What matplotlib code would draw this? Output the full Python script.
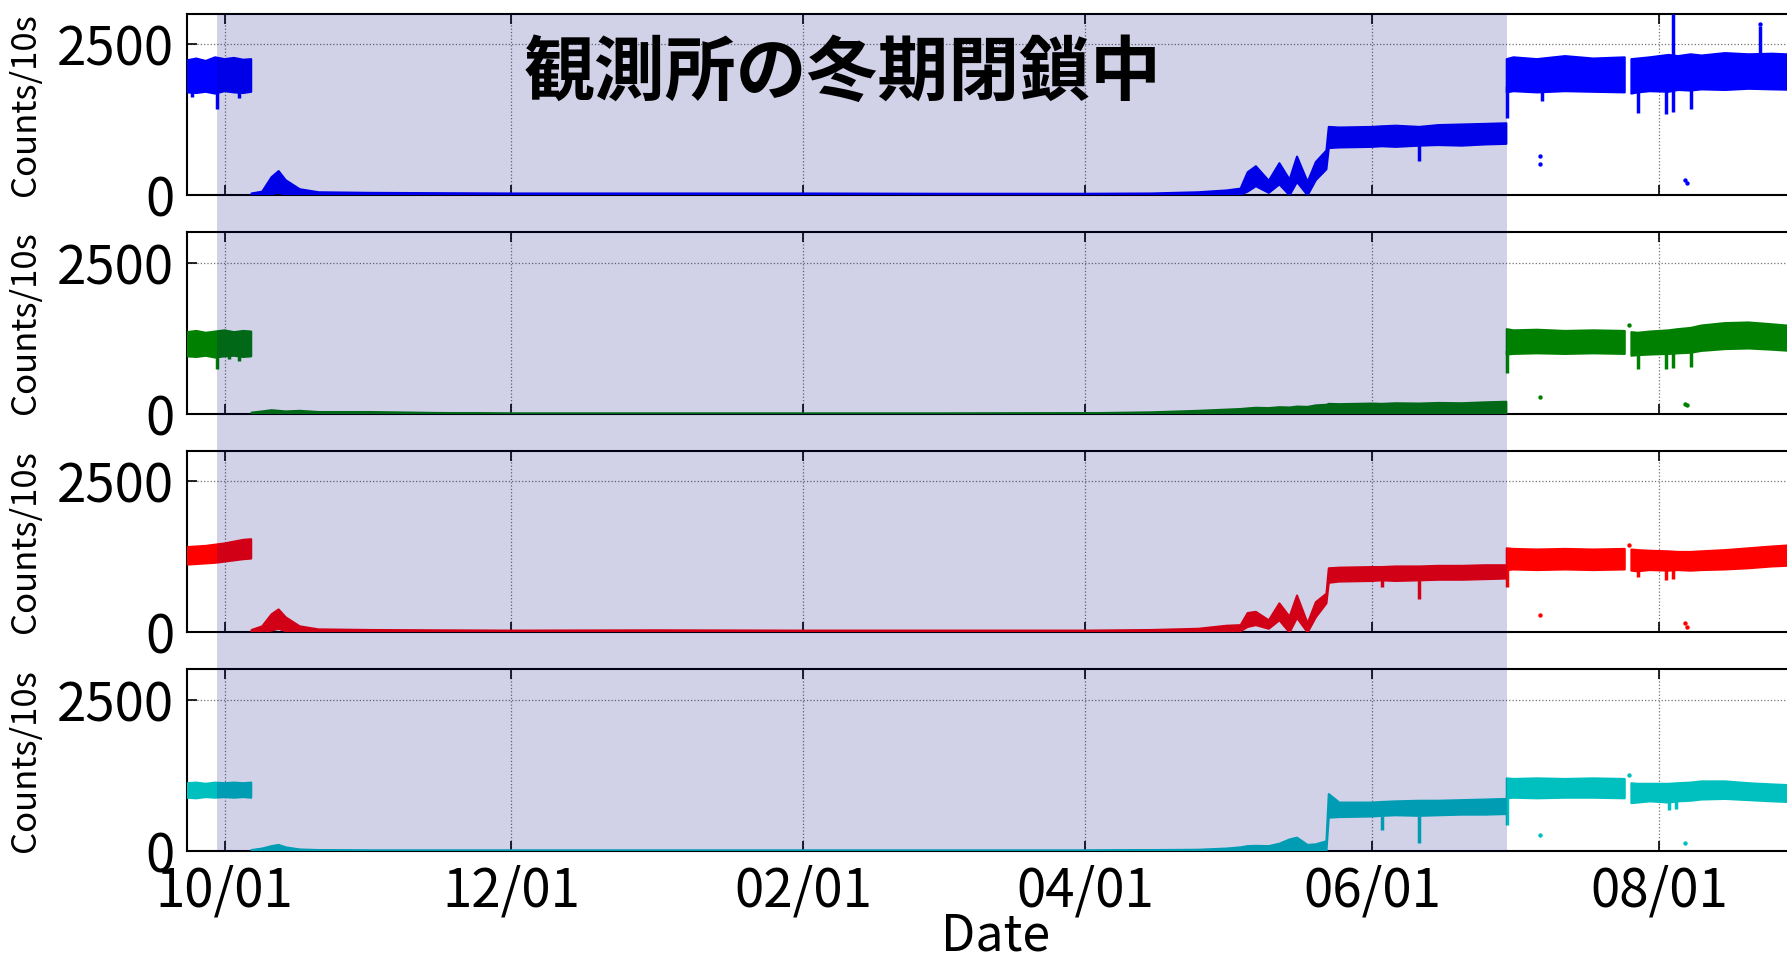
import matplotlib
matplotlib.use("Agg")
import matplotlib.pyplot as plt
import matplotlib.dates as mdates
import matplotlib.transforms as mtransforms
from matplotlib.patches import Rectangle
import numpy as np
import pandas as pd

plt.rcParams["font.family"] = ["Noto Sans CJK JP", "DejaVu Sans"]

# common time grid (band envelopes are sampled on it); NaN rows mark data breaks
dates = [
    "2015-09-23", "2015-09-25", "2015-09-27", "2015-09-29", "2015-10-01",
    "2015-10-03", "2015-10-05", "2015-10-06 16:00", "2015-10-06 17:00", "2015-10-06 18:00",
    "2015-10-09", "2015-10-11", "2015-10-12 12:00", "2015-10-14", "2015-10-17",
    "2015-10-21", "2015-11-01", "2015-11-15", "2015-12-01", "2016-01-01",
    "2016-02-01", "2016-03-01", "2016-04-01", "2016-04-15", "2016-04-25",
    "2016-05-01", "2016-05-04", "2016-05-05 12:00", "2016-05-07 06:00", "2016-05-10",
    "2016-05-12 06:00", "2016-05-14 10:00", "2016-05-16", "2016-05-18 06:00", "2016-05-20",
    "2016-05-22 06:00", "2016-05-22 18:00", "2016-05-25", "2016-06-01", "2016-06-03",
    "2016-06-06", "2016-06-11", "2016-06-15", "2016-06-20", "2016-06-25",
    "2016-06-29 12:00", "2016-06-29 13:00", "2016-06-29 14:00", "2016-07-01", "2016-07-06",
    "2016-07-12", "2016-07-18", "2016-07-24 16:00", "2016-07-25", "2016-07-26 02:00",
    "2016-07-27 10:00", "2016-07-30", "2016-08-03", "2016-08-05", "2016-08-07 16:00",
    "2016-08-10", "2016-08-15", "2016-08-20", "2016-08-25", "2016-08-31",
]
nan = np.nan

ch1_lo = [1700, 1690, 1710, 1680, 1720, 1700, 1690, 1710, nan, 0,
          0, 20, 40, 10, 0, 0, 0, 0, 0, 0,
          0, 0, 0, 0, 0, 0, 10, 60, 150, 40,
          180, 0, 220, 0, 250, 430, 780, 790, 800, 810,
          800, 820, 830, 820, 840, 850, nan, 1700, 1720, 1700,
          1720, 1710, 1700, nan, 1680, 1700, 1720, 1710, 1740, 1730,
          1750, 1740, 1760, 1750, 1740]
ch1_hi = [2230, 2260, 2220, 2280, 2250, 2270, 2240, 2250, nan, 30,
          60, 300, 400, 250, 100, 50, 40, 35, 30, 30,
          30, 25, 25, 30, 50, 80, 110, 380, 480, 240,
          530, 260, 640, 220, 550, 740, 1130, 1120, 1130, 1140,
          1150, 1130, 1160, 1170, 1180, 1190, nan, 2250, 2280, 2250,
          2300, 2260, 2280, nan, 2250, 2260, 2280, 2320, 2300, 2330,
          2310, 2350, 2330, 2340, 2320]

ch2_lo = [950, 940, 960, 930, 950, 960, 940, 950, nan, 0,
          0, 0, 0, 0, 0, 0, 0, 0, 0, 0,
          0, 0, 0, 0, 0, 0, 0, 0, 0, 0,
          0, 0, 0, 0, 0, 0, 0, 0, 0, 0,
          0, 0, 0, 0, 0, 0, nan, 980, 990, 1000,
          990, 1000, 990, nan, 960, 970, 980, 990, 1000, 1010,
          1040, 1070, 1080, 1060, 1030]
ch2_hi = [1350, 1370, 1340, 1360, 1380, 1350, 1370, 1360, nan, 20,
          40, 60, 50, 40, 50, 30, 30, 15, 5, 5,
          5, 5, 10, 25, 50, 70, 80, 90, 100, 95,
          110, 105, 120, 115, 140, 150, 165, 160, 170, 165,
          175, 170, 180, 175, 190, 200, nan, 1400, 1380, 1390,
          1370, 1380, 1370, nan, 1350, 1340, 1360, 1380, 1400, 1420,
          1460, 1500, 1510, 1480, 1440]

ch3_lo = [1120, 1130, 1140, 1150, 1170, 1190, 1210, 1220, nan, 0,
          0, 30, 60, 20, 0, 0, 0, 0, 0, 0,
          0, 0, 0, 0, 0, 0, 20, 90, 120, 60,
          200, 0, 240, 0, 250, 480, 820, 840, 850, 860,
          850, 860, 870, 870, 880, 890, nan, 1030, 1040, 1030,
          1040, 1030, 1040, nan, 1020, 1010, 1030, 1020, 1030, 1020,
          1030, 1040, 1060, 1090, 1110]
ch3_hi = [1410, 1420, 1430, 1450, 1470, 1500, 1530, 1540, nan, 40,
          100, 300, 380, 250, 100, 50, 40, 35, 30, 35,
          30, 30, 30, 40, 60, 110, 120, 320, 340, 200,
          480, 260, 610, 150, 500, 640, 1060, 1070, 1080, 1080,
          1090, 1090, 1100, 1100, 1110, 1110, nan, 1390, 1380, 1370,
          1380, 1370, 1380, nan, 1370, 1360, 1350, 1340, 1330, 1330,
          1340, 1360, 1390, 1420, 1450]

ch4_lo = [880, 870, 890, 880, 890, 880, 890, 880, nan, 0,
          0, 0, 0, 0, 0, 0, 0, 0, 0, 0,
          0, 0, 0, 0, 0, 0, 0, 0, 0, 0,
          0, 0, 0, 0, 0, 0, 550, 560, 570, 580,
          590, 580, 590, 600, 600, 610, nan, 870, 880, 870,
          880, 880, 870, nan, 790, 800, 820, 800, 820, 830,
          850, 860, 840, 820, 800]
ch4_hi = [1120, 1130, 1110, 1130, 1120, 1130, 1120, 1130, nan, 15,
          40, 80, 100, 60, 25, 15, 10, 10, 10, 10,
          10, 10, 10, 15, 20, 40, 60, 80, 85, 80,
          120, 190, 220, 100, 110, 160, 940, 800, 800, 810,
          820, 830, 830, 840, 850, 860, nan, 1200, 1190, 1200,
          1190, 1200, 1190, nan, 1120, 1110, 1110, 1110, 1120, 1130,
          1150, 1150, 1120, 1100, 1080]

# short drops / spikes: (date, from, to)
ch1_spikes = [("2015-09-24", 1620, 1800), ("2015-09-29 08:00", 1420, 1800),
              ("2015-10-04", 1600, 1800), ("2016-06-11", 560, 900),
              ("2016-06-29 14:00", 1275, 1800), ("2016-07-07", 1560, 1800),
              ("2016-07-27 10:00", 1360, 1800), ("2016-08-02 12:00", 1340, 1800),
              ("2016-08-04", 1380, 3000), ("2016-08-07 16:00", 1420, 1800),
              ("2016-08-22 10:00", 2000, 2800)]
ch2_spikes = [("2015-09-29 12:00", 745, 1000), ("2015-10-02", 900, 1000),
              ("2015-10-04", 880, 1000), ("2016-06-29 14:00", 680, 1050),
              ("2016-07-27 10:00", 745, 1000), ("2016-08-02 12:00", 745, 1000),
              ("2016-08-04", 760, 1000), ("2016-08-07 16:00", 767, 1050)]
ch3_spikes = [("2016-06-03", 750, 900), ("2016-06-11", 557, 900),
              ("2016-06-29 14:00", 750, 1100), ("2016-07-27 10:00", 916, 1050),
              ("2016-08-02 12:00", 861, 1050), ("2016-08-04", 880, 1050)]
ch4_spikes = [("2016-06-03", 348, 620), ("2016-06-11", 127, 620),
              ("2016-06-29 14:00", 430, 900), ("2016-08-03", 680, 850),
              ("2016-08-04 12:00", 700, 850)]

# isolated points
ch1_dots = [("2016-07-06 14:00", 646), ("2016-07-06 14:00", 513),
            ("2016-08-06 10:00", 250), ("2016-08-06 22:00", 200),
            ("2016-08-22 10:00", 2830)]
ch2_dots = [("2016-07-06 14:00", 270), ("2016-08-06 10:00", 170),
            ("2016-08-06 22:00", 150), ("2016-07-25 12:00", 1474)]
ch3_dots = [("2016-07-06 14:00", 282), ("2016-08-06 10:00", 150),
            ("2016-08-06 22:00", 83), ("2016-07-25 12:00", 1440)]
ch4_dots = [("2016-07-06 14:00", 265), ("2016-08-06 10:00", 127),
            ("2016-07-25 12:00", 1260)]

closure_start = "2015-09-29 12:00"
closure_end = "2016-06-29 13:00"

channels = [
    (ch1_lo, ch1_hi, ch1_spikes, ch1_dots, "#0000ff"),
    (ch2_lo, ch2_hi, ch2_spikes, ch2_dots, "#008000"),
    (ch3_lo, ch3_hi, ch3_spikes, ch3_dots, "#ff0000"),
    (ch4_lo, ch4_hi, ch4_spikes, ch4_dots, "#00bfbf"),
]


def to_dt(values):
    return pd.to_datetime(values, format="mixed")


t = to_dt(dates)

fig, axes = plt.subplots(4, 1, sharex=True, figsize=(17.87, 9.61), dpi=100)
fig.subplots_adjust(left=0.1046, right=1.0101, top=0.9857, bottom=0.1145, hspace=0.204)

for ax, (lo, hi, spikes, dots, color) in zip(axes, channels):
    ax.fill_between(t, lo, hi, color=color, lw=1.5, edgecolor=color, zorder=3)
    sd = to_dt([s[0] for s in spikes])
    ax.vlines(sd, [s[1] for s in spikes], [s[2] for s in spikes],
              color=color, lw=2.5, zorder=3)
    dd = to_dt([d[0] for d in dots])
    ax.scatter(dd, [d[1] for d in dots], s=10, color=color, lw=0, zorder=3)

    ax.set_ylim(0, 3000)
    ax.set_yticks([0, 2500])
    ax.set_ylabel("Counts/10s", fontsize=25)
    ax.yaxis.set_label_coords(-0.089, 0.5)
    ax.grid(True, linestyle=":", color="0.45", lw=0.9)
    ax.tick_params(direction="in", top=True, right=True, length=7, width=1.2,
                   labelsize=38, pad=9)
    for sp in ax.spines.values():
        sp.set_linewidth(1.5)

axes[-1].set_xlim(pd.Timestamp("2015-09-23"), pd.Timestamp("2016-09-01"))
axes[-1].xaxis.set_major_locator(mdates.MonthLocator(bymonth=[2, 4, 6, 8, 10, 12]))
axes[-1].xaxis.set_major_formatter(mdates.DateFormatter("%m/%d"))
axes[-1].set_xlabel("Date", fontsize=36, labelpad=-6)

# winter closure band across all four panels
trans = mtransforms.blended_transform_factory(axes[-1].transData, fig.transFigure)
x0 = mdates.date2num(pd.Timestamp(closure_start))
x1 = mdates.date2num(pd.Timestamp(closure_end))
fig.add_artist(Rectangle((x0, 0.1145), x1 - x0, 0.9857 - 0.1145, transform=trans,
                         facecolor="navy", alpha=0.18, lw=0, zorder=5))

fig.text(0.4717, 0.923, "観測所の冬期閉鎖中", ha="center", va="center",
         fontsize=51, fontweight="bold", zorder=6)

fig.savefig("out.png", dpi=100)
